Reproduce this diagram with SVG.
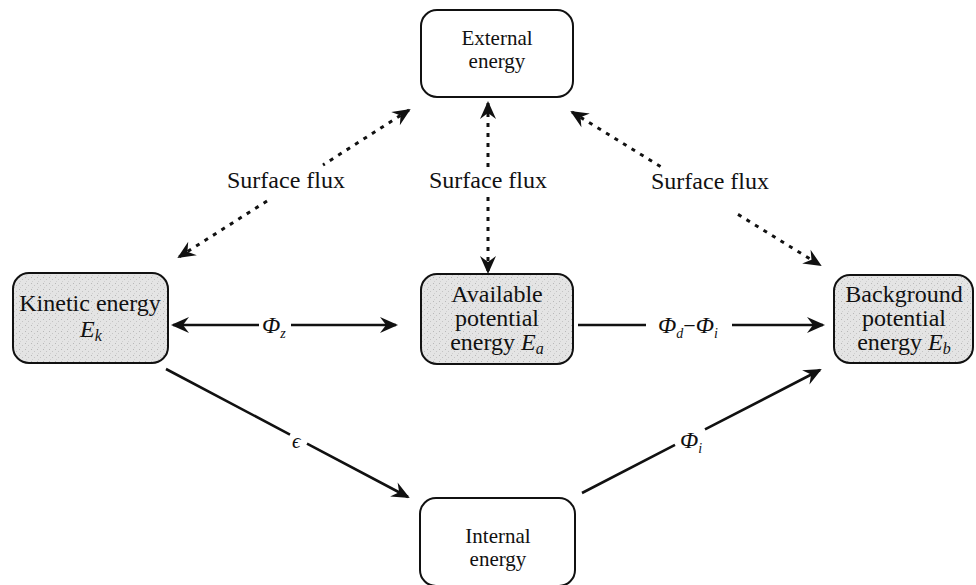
<svg xmlns="http://www.w3.org/2000/svg" width="976" height="585" viewBox="0 0 976 585">
  <style>
    .box { stroke: #111; stroke-width: 2; }
    .plain { fill: #fff; }
    .shade { fill: url(#stipple); }
    .t { font-family: "Liberation Serif", "Times New Roman", serif; fill: #111; text-anchor: middle; }
    .bt { font-size: 24px; }
    .st { font-size: 21px; }
    .lab { font-size: 24px; }
    .sym { font-family: "Liberation Serif", "DejaVu Serif", serif; font-style: italic; fill: #111; }
    .solid { fill: none; stroke: #111; stroke-width: 2.6; }
    .dot { fill: none; stroke: #111; stroke-width: 3; stroke-dasharray: 4 6; }
  </style>
  <defs>
    <pattern id="stipple" width="6" height="6" patternUnits="userSpaceOnUse">
      <rect width="6" height="6" fill="#e4e4e4"/>
      <rect x="1" y="1" width="1" height="1" fill="#b8b8b8"/>
      <rect x="4" y="3" width="1" height="1" fill="#c4c4c4"/>
      <rect x="2" y="5" width="1" height="1" fill="#cfcfcf"/>
    </pattern>
    <marker id="ah" markerUnits="userSpaceOnUse" markerWidth="26" markerHeight="22" viewBox="-20 -11 26 22" refX="0" refY="0" orient="auto-start-reverse">
      <path d="M2,0 L-16,-8 L-10,0 L-16,8 Z" fill="#111"/>
    </marker>
  </defs>

  <g id="connectors">
    <!-- Phi_z -->
    <path class="solid" d="M173,325 H259 M291,325 H396" marker-start="url(#ah)" marker-end="url(#ah)"/>
    <!-- Phi_d - Phi_i -->
    <path class="solid" d="M578,325 H646 M732,325 H823" marker-end="url(#ah)"/>
    <!-- epsilon -->
    <path class="solid" d="M166,369 L290,434.6 M307,443.6 L408,497" marker-end="url(#ah)"/>
    <!-- Phi_i -->
    <path class="solid" d="M582,493 L675,444.9 M705,429.4 L820,370" marker-end="url(#ah)"/>
    <!-- surface flux left -->
    <path class="dot" d="M409,110 L323,165 M267,201 L179,257" marker-start="url(#ah)" marker-end="url(#ah)"/>
    <!-- surface flux middle -->
    <path class="dot" d="M488,103 V170 M488,197 V272" marker-start="url(#ah)" marker-end="url(#ah)"/>
    <!-- surface flux right -->
    <path class="dot" d="M572,112 L662,167.5 M738,214.4 L820,265" marker-start="url(#ah)" marker-end="url(#ah)"/>

    <text class="t lab" x="286" y="188">Surface flux</text>
    <text class="t lab" x="488" y="188">Surface flux</text>
    <text class="t lab" x="710" y="189">Surface flux</text>

    <text class="sym" x="262" y="333" font-size="24">Φ<tspan font-size="14" dy="5">z</tspan></text>
    <text class="sym" x="658" y="333" font-size="24">Φ<tspan font-size="14" dy="5">d</tspan><tspan font-style="normal" font-size="22" dy="-5">−</tspan>Φ<tspan font-size="14" dy="5">i</tspan></text>
    <text class="sym" x="292" y="448" font-size="21">ϵ</text>
    <text class="sym" x="680" y="448" font-size="24">Φ<tspan font-size="14" dy="5">i</tspan></text>
  </g>

  <g id="external">
    <rect class="box plain" x="421" y="10" width="152" height="87" rx="16"/>
    <text class="t st" x="497" y="45">External</text>
    <text class="t st" x="497" y="68">energy</text>
  </g>

  <g id="kinetic">
    <rect class="box shade" x="13" y="273" width="155" height="90" rx="16"/>
    <text class="t bt" x="90" y="311">Kinetic energy</text>
    <text class="sym" x="80" y="337" font-size="24">E<tspan font-size="16" dy="4">k</tspan></text>
  </g>

  <g id="available">
    <rect class="box shade" x="421" y="274" width="152" height="90" rx="16"/>
    <text class="t bt" x="497" y="302">Available</text>
    <text class="t bt" x="497" y="326">potential</text>
    <text class="t bt" x="497" y="350">energy <tspan font-style="italic">E</tspan><tspan font-style="italic" font-size="16" dy="4">a</tspan></text>
  </g>

  <g id="background">
    <rect class="box shade" x="834" y="275" width="139" height="88" rx="16"/>
    <text class="t bt" x="904" y="302">Background</text>
    <text class="t bt" x="904" y="326">potential</text>
    <text class="t bt" x="904" y="350">energy <tspan font-style="italic">E</tspan><tspan font-style="italic" font-size="16" dy="4">b</tspan></text>
  </g>

  <g id="internal">
    <rect class="box plain" x="420" y="498" width="155" height="88" rx="16"/>
    <text class="t st" x="498" y="543">Internal</text>
    <text class="t st" x="498" y="566">energy</text>
  </g>
</svg>
